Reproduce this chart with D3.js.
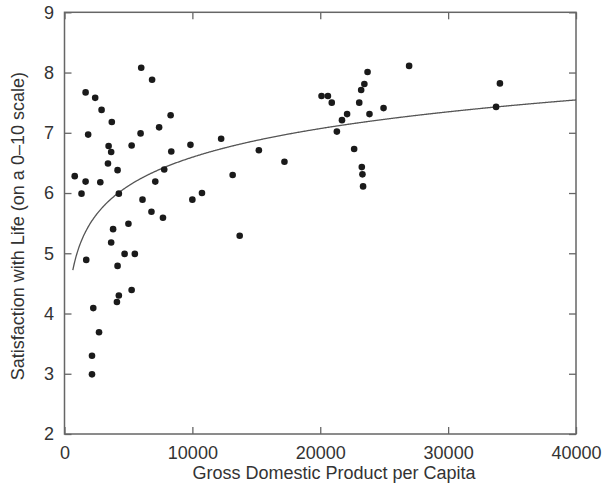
<!DOCTYPE html>
<html>
<head>
<meta charset="utf-8">
<script src="https://cdn.jsdelivr.net/npm/d3@7/dist/d3.min.js"></script>
<style>
  html, body { margin: 0; padding: 0; background: #fff; }
  svg { display: block; }
  text { font-family: "Liberation Sans", Arial, Helvetica, sans-serif; fill: #333; }
</style>
</head>
<body>
<svg id="chart" width="604" height="493"></svg>
<script>
// GDP per capita (x) and life satisfaction (y) for each country
const gdp = [
  6000, 6850, 1650, 2400, 2900, 8300, 3700, 7400, 1850, 5950,
  3450, 5250, 9850, 3650, 8350, 3400, 800, 4150, 7800, 1650,
  2800, 7100, 1330, 4250, 6100, 10000, 10750, 6800, 7700, 5000,
  3800, 3650, 1700, 4700, 5500, 4150, 5250, 4250, 4100, 2250,
  2700, 2150, 2150, 13700, 12250, 15200, 17200, 13150, 20100, 20600,
  20900, 23700, 23450, 23200, 23050, 22100, 21700, 23850, 21300, 22650,
  23250, 23300, 23350, 26950, 24950, 34050, 33750
];
const satisfaction = [
  8.08, 7.88, 7.67, 7.58, 7.38, 7.29, 7.18, 7.09, 6.97, 6.99,
  6.78, 6.79, 6.80, 6.68, 6.69, 6.49, 6.28, 6.38, 6.39, 6.19,
  6.18, 6.19, 5.99, 5.99, 5.89, 5.89, 6.00, 5.69, 5.59, 5.49,
  5.40, 5.18, 4.89, 4.99, 4.99, 4.79, 4.39, 4.30, 4.19, 4.09,
  3.69, 3.30, 2.99, 5.29, 6.90, 6.71, 6.52, 6.30, 7.61, 7.61,
  7.50, 8.01, 7.81, 7.71, 7.50, 7.31, 7.21, 7.31, 7.02, 6.73,
  6.43, 6.31, 6.11, 8.11, 7.41, 7.82, 7.43
];
// Logarithmic fit: satisfaction = fitIntercept + fitSlope * ln(gdp)
const fitIntercept = 0.278;
const fitSlope = 0.6858;
const fitRange = [650, 40000];

const xTicks = [0, 10000, 20000, 30000, 40000];
const yTicks = [2, 3, 4, 5, 6, 7, 8, 9];
const xTitle = "Gross Domestic Product per Capita";
const yTitle = "Satisfaction with Life (on a 0\u201310 scale)";

const svg = d3.select("#chart");
const x = d3.scaleLinear().domain([0, 40000]).range([64.5, 576]);
const y = d3.scaleLinear().domain([2, 9]).range([434, 12.3]);

const frameColor = "#666";

function styleAxis(g) {
  g.select(".domain").remove();
  g.selectAll(".tick line").attr("stroke", frameColor).attr("stroke-width", 1.3);
  g.selectAll(".tick text").attr("fill", "#333").style("font-size", "18px")
    .attr("font-family", "Liberation Sans, Arial, Helvetica, sans-serif");
}

svg.append("g").attr("transform", `translate(0,${y(2)})`)
  .call(d3.axisBottom(x).tickValues(xTicks).tickFormat(d3.format("d")).tickSizeInner(-7).tickSizeOuter(0).tickPadding(12))
  .call(styleAxis);
svg.append("g").attr("transform", `translate(0,${y(9)})`)
  .call(d3.axisTop(x).tickValues(xTicks).tickFormat("").tickSizeInner(-7).tickSizeOuter(0))
  .call(styleAxis);
svg.append("g").attr("transform", `translate(${x(0)},0)`)
  .call(d3.axisLeft(y).tickValues(yTicks).tickFormat(d3.format("d")).tickSizeInner(-7).tickSizeOuter(0).tickPadding(10.5))
  .call(styleAxis);
svg.append("g").attr("transform", `translate(${x(40000)},0)`)
  .call(d3.axisRight(y).tickValues(yTicks).tickFormat("").tickSizeInner(-7).tickSizeOuter(0))
  .call(styleAxis);

svg.append("rect")
  .attr("x", x(0)).attr("y", y(9))
  .attr("width", x(40000) - x(0)).attr("height", y(2) - y(9))
  .attr("fill", "none").attr("stroke", frameColor).attr("stroke-width", 1.5);

// fitted curve
const curveX = d3.range(fitRange[0], fitRange[1] + 1, 50);
const line = d3.line().x(d => x(d)).y(d => y(fitIntercept + fitSlope * Math.log(d))).curve(d3.curveLinear);
svg.append("path").datum(curveX)
  .attr("d", line).attr("fill", "none").attr("stroke", "#555").attr("stroke-width", 1.3);

// points
svg.append("g").selectAll("circle")
  .data(d3.zip(gdp, satisfaction))
  .join("circle")
  .attr("cx", d => x(d[0])).attr("cy", d => y(d[1]))
  .attr("r", 3.3).attr("fill", "#1a1a1a");

// titles
svg.append("text")
  .attr("x", 334).attr("y", 479)
  .attr("text-anchor", "middle").style("font-size", "18px")
  .text(xTitle);
svg.append("text")
  .attr("transform", `translate(24,${(y(2) + y(9)) / 2 + 3}) rotate(-90)`)
  .attr("text-anchor", "middle").style("font-size", "18px")
  .text(yTitle);
</script>
</body>
</html>
